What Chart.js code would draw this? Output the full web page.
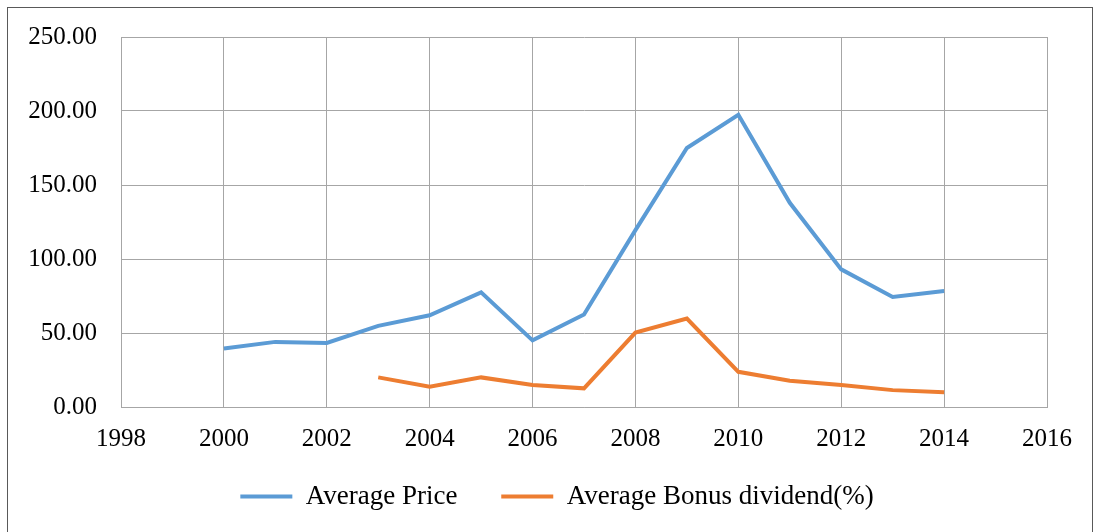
<!DOCTYPE html>
<html>
  <head>
    <title>Average Price and Bonus dividend</title>
    <script src="https://cdn.jsdelivr.net/npm/chart.js"></script>
    <style>
      body {
        margin: 0;
        background: #ffffff;
        overflow: hidden;
      }

      .chart-box {
        position: absolute;
        left: 7px;
        top: 7px;
        width: 1084px;
        height: 540px;
        border: 1px solid #595959;
      }

      #myChart {
        position: absolute;
        left: 0;
        top: 0;
      }
    </style>
  </head>
  <body>
    <div class="chart-box">
      <canvas id="myChart" width="1100" height="524"></canvas>
    </div>

    <script>
      const years = [2000, 2001, 2002, 2003, 2004, 2005, 2006, 2007, 2008, 2009, 2010, 2011, 2012, 2013, 2014];
      const avgPrice = [39.5, 44, 43.3, 54.8, 62, 77.5, 45, 62.5, 119.5, 175, 197.4, 138, 93, 74.3, 78.4];
      const avgBonus = [null, null, null, 20, 13.7, 20, 14.8, 12.6, 50.3, 59.8, 23.8, 17.7, 14.8, 11.4, 9.9];

      function toPoints(values) {
        const pts = [];
        for (let i = 0; i < years.length; i++) {
          if (values[i] !== null) pts.push({ x: years[i], y: values[i] });
        }
        return pts;
      }

      const serif = "'Liberation Serif', 'Times New Roman', serif";
      const gridColor = "#a6a6a6";

      const ctx = document.getElementById("myChart").getContext("2d");
      new Chart(ctx, {
        type: "line",
        data: {
          datasets: [
            {
              label: "Average Price     ",
              data: toPoints(avgPrice),
              borderColor: "#5b9bd5",
              backgroundColor: "#5b9bd5",
              borderWidth: 4,
              pointRadius: 0,
              tension: 0,
            },
            {
              label: "Average Bonus dividend(%)",
              data: toPoints(avgBonus),
              borderColor: "#ed7d31",
              backgroundColor: "#ed7d31",
              borderWidth: 4,
              pointRadius: 0,
              tension: 0,
            },
          ],
        },
        options: {
          responsive: false,
          animation: false,
          layout: {
            padding: { top: 29, right: 2, bottom: 12, left: 0 },
          },
          plugins: {
            tooltip: { enabled: false },
            legend: {
              position: "bottom",
              labels: {
                usePointStyle: true,
                pointStyle: "line",
                pointStyleWidth: 52,
                padding: 10,
                color: "#000000",
                font: { family: serif, size: 27 },
              },
            },
          },
          scales: {
            x: {
              type: "linear",
              min: 1998,
              max: 2016,
              afterFit: function (axis) {
                axis.height = 66;
              },
              ticks: {
                stepSize: 2,
                padding: 17,
                color: "#000000",
                font: { family: serif, size: 25 },
                callback: function (v) {
                  return String(v);
                },
              },
              grid: { color: gridColor, drawTicks: false },
              border: { color: gridColor },
            },
            y: {
              min: 0,
              max: 250,
              afterFit: function (axis) {
                axis.width = 113;
                axis.paddingTop = 0;
                axis.paddingBottom = 0;
              },
              ticks: {
                stepSize: 50,
                padding: 24,
                color: "#000000",
                font: { family: serif, size: 25 },
                callback: function (v) {
                  return v.toFixed(2);
                },
              },
              grid: { color: gridColor, drawTicks: false },
              border: { color: gridColor },
            },
            // empty right-hand spacer so the legend centres like the original
            spacer: {
              position: "right",
              afterFit: function (axis) {
                axis.width = 59;
              },
              ticks: { display: false },
              grid: { display: false, drawTicks: false },
              border: { display: false },
            },
          },
        },
      });
    </script>
  </body>
</html>
